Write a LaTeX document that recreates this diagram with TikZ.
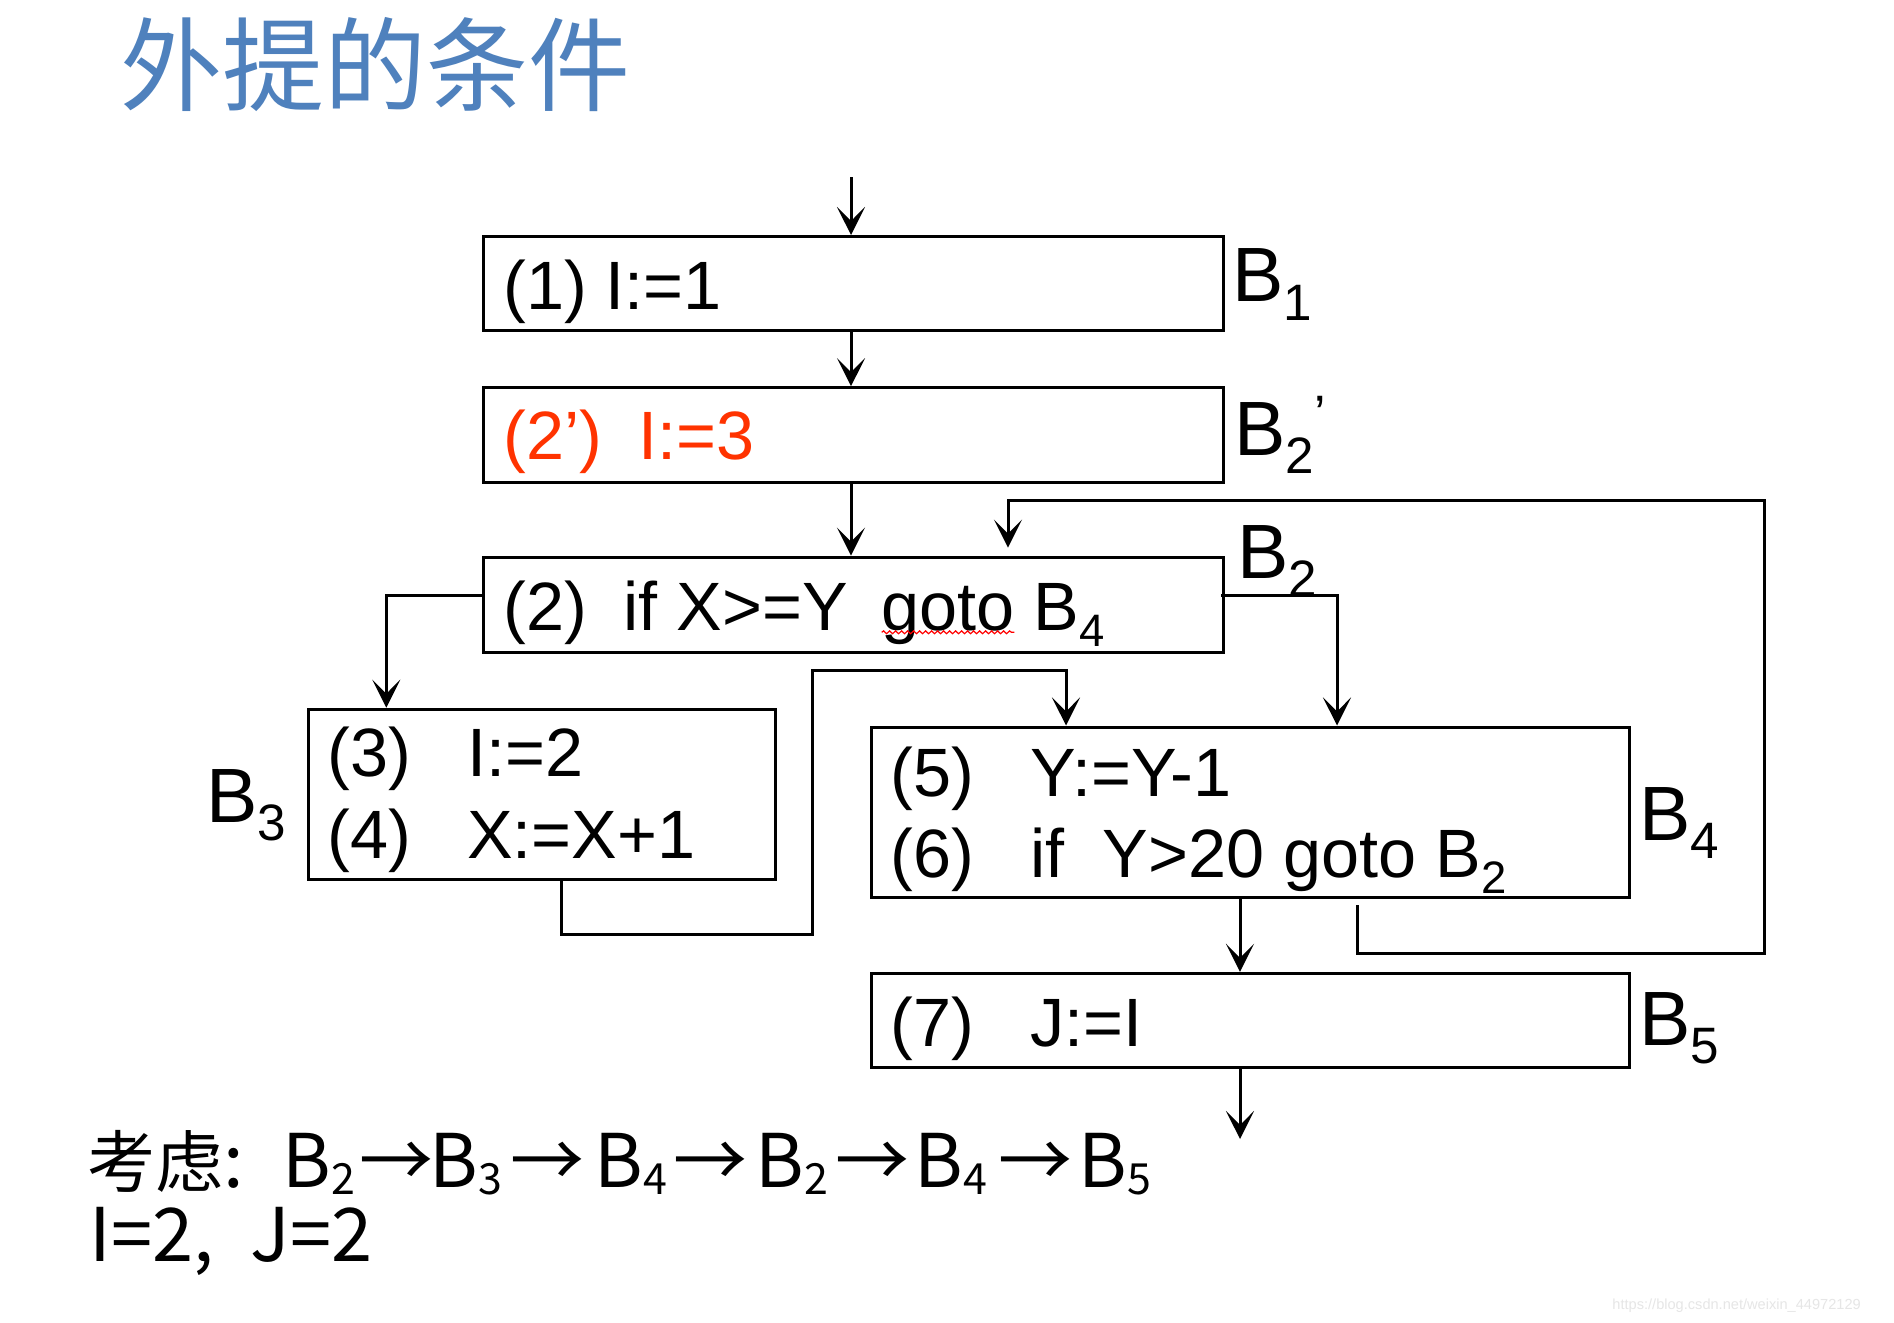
\documentclass[tikz,border=0pt]{standalone}
\usepackage{fontspec}
\usepackage{graphicx}
\setmainfont{Liberation Sans}
\newfontfamily\cjk{Noto Sans CJK SC}
\usetikzlibrary{arrows.meta,decorations.pathmorphing}
\definecolor{titleblue}{HTML}{4F81BD}
\definecolor{hotred}{HTML}{FF3300}
\definecolor{wmgray}{HTML}{E6E6E6}
\newcommand\dsub[1]{\raisebox{-0.24em}{\scalebox{0.665}{#1}}}
\newcommand\bsub[1]{\raisebox{-0.1em}{\scalebox{0.58}{#1}}}
\newcommand\lprime{\raisebox{0.3em}{\scalebox{0.665}{’}}}
\newcommand\kao{{\fontsize{34}{37.2}\selectfont 考虑}}
\tikzset{
  blk/.style={draw, rectangle, line width=1.5pt, inner sep=0pt},
  arr/.style={line width=1.5pt, -{Stealth[length=14pt, width=14pt, inset=7pt]}},
  txt/.style={inner sep=0pt, anchor=base west, font=\fontsize{34.2}{40}\selectfont},
  lab/.style={inner sep=0pt, anchor=base west, font=\fontsize{38.5}{46}\selectfont},
  btxt/.style={inner sep=0pt, anchor=base west, font=\cjk\fontsize{37}{37.2}\selectfont},
}
\begin{document}
\begin{tikzpicture}[x=0.5pt,y=-0.5pt]
\fill[white] (0,0) rectangle (1894,1322);
\useasboundingbox (0,0) rectangle (1894,1322);

% title
\node[inner sep=0pt, anchor=base west, text=titleblue, font=\cjk\fontsize{51}{60}\selectfont] (title) at (120,104) {外提的条件};

% boxes
\node[blk, minimum width=370.3pt, minimum height=47pt] (b1) at (853.3,283.5) {};
\node[blk, minimum width=370.3pt, minimum height=47.5pt] (b2p) at (853.3,435.2) {};
\node[blk, minimum width=370.3pt, minimum height=47.6pt] (b2) at (853.3,604.7) {};
\node[blk, minimum width=233.5pt, minimum height=85pt] (b3) at (541.5,794.2) {};
\node[blk, minimum width=378.8pt, minimum height=85.4pt] (b4) at (1250.2,812.4) {};
\node[blk, minimum width=378.8pt, minimum height=47.2pt] (b5) at (1250.2,1020.5) {};

% box texts
\node[txt] (t1) at (503,309) {(1) I:=1};
\node[txt, text=hotred] (t2p) at (503,459) {\makebox[67.4pt][l]{(2’)}I:=3};
\node[txt] (t2) at (503,630) {\makebox[60pt][l]{(2)}\makebox[129pt][l]{if X>=Y}goto B\dsub{4}};
\node[txt] (t3a) at (327,776.7) {\makebox[70pt][l]{(3)}I:=2};
\node[txt] (t3b) at (327,858.3) {\makebox[70pt][l]{(4)}X:=X+1};
\node[txt] (t4a) at (890,796.2) {\makebox[70pt][l]{(5)}Y:=Y-1};
\node[txt] (t4b) at (890,877.2) {\makebox[70pt][l]{(6)}if\ \ Y>20 goto B\dsub{2}};
\node[txt] (t5) at (890,1046) {\makebox[70pt][l]{(7)}J:=I};

% spell-check underline
\draw[red, line width=0.6pt, decorate, decoration={snake, amplitude=0.7pt, segment length=3pt}] (881.7,632.3) -- (1014.3,632.3);

% block labels
\node[lab] (l1) at (1232,301.7) {B\dsub{1}};
\node[lab] (l2p) at (1234,455) {B\dsub{2}\lprime};
\node[lab] (l2) at (1237,578.3) {B\dsub{2}};
\node[lab] (l3) at (206,822.3) {B\dsub{3}};
\node[lab] (l4) at (1639,840.5) {B\dsub{4}};
\node[lab] (l5) at (1639,1045.2) {B\dsub{5}};

% connectors
\coordinate (top) at (851,177);
\draw[arr] (top) -- (top |- b1.north);
\draw[arr] (top |- b1.south) -- (top |- b2p.north);
\draw[arr] (top |- b2p.south) -- (top |- b2.north);

\coordinate (c23) at (386.3,0);
\draw[arr] ([yshift=4.85pt]b2.west) -| (c23 |- b3.north);

\coordinate (c24) at (1337,0);
\draw[arr] ([yshift=4.85pt,xshift=-2pt]b2.east) -| (c24 |- b4.north);

\coordinate (p1) at (561,934.3);
\coordinate (p2) at (812.6,670.7);
\coordinate (c34) at (1066,0);
\draw[arr] (p1 |- b3.south) -- (p1) -| (p2) -| (c34 |- b4.north);

\coordinate (c45) at (1240,0);
\draw[arr] (c45 |- b4.south) -- (c45 |- b5.north);
\coordinate (exit) at (1240,1139);
\draw[arr] (c45 |- b5.south) -- (exit);

\coordinate (q1) at (1357,953);
\coordinate (q2) at (1764,500.6);
\coordinate (c42) at (1008,0);
\draw[arr, shorten <=3pt, shorten >=4pt] (q1 |- b4.south) -- (q1) -| (q2) -| (c42 |- b2.north);

% bottom text (two lines; base anchor = last line)
\node[btxt, align=left] (note) at (87,1261.7) {\makebox[97.5pt][l]{\kao:}\makebox[38.5pt][l]{B\bsub{2}}\makebox[35.2pt][l]{→}\makebox[40.3pt][l]{B\bsub{3}}\makebox[42.1pt][l]{→}\makebox[39.2pt][l]{B\bsub{4}}\makebox[41.5pt][l]{→}\makebox[39.5pt][l]{B\bsub{2}}\makebox[40pt][l]{→}\makebox[41.5pt][l]{B\bsub{4}}\makebox[40.3pt][l]{→}B\bsub{5}\\
\hspace*{1pt}\makebox[80.7pt][l]{I=2,}J=2};

% watermark
\node[inner sep=0pt, anchor=base west, text=wmgray, font=\fontsize{7.3}{9}\selectfont] (wm) at (1612,1309.3) {https://blog.csdn.net/weixin\_44972129};
\end{tikzpicture}
\end{document}
